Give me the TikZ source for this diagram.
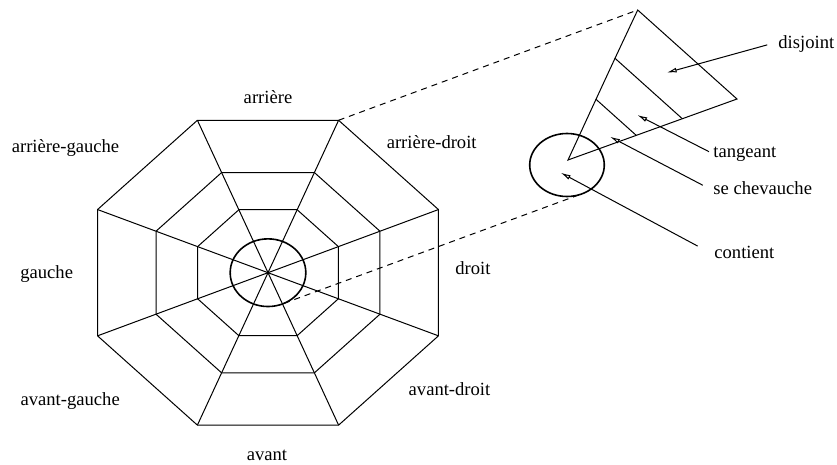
\documentclass[tikz,border=0pt]{standalone}
\usepackage{fontspec}
\setmainfont{Liberation Serif}
\usetikzlibrary{arrows.meta,positioning}

\begin{document}
\begin{tikzpicture}[
      x=0.5pt, y=-0.5pt,
      font=\fontsize{9.3}{11}\selectfont,
      lbl/.style={inner sep=2pt, text height=1.5ex, text depth=.25ex},
      edge/.style={line width=0.5pt},
      ring/.style={line width=0.8pt},
      zoomline/.style={dash pattern=on 3pt off 2.5pt, line width=0.5pt},
      ptr/.style={-{Latex[open, length=5pt, width=2.4pt]}, line width=0.5pt},
    ]
    \useasboundingbox (0,0) rectangle (837,465);

    % Octagon web (left), regular in a stretched frame
    \begin{scope}[shift={(268,272.7)}, x=92.25pt, y=-82.5pt]
      \foreach \r in {1,0.657,0.413}
        \draw [edge] (22.5:\r) \foreach \a in {67.5,112.5,...,337.5} { -- (\a:\r) } -- cycle;
      \foreach \a in {22.5,67.5,...,337.5}
        \draw [edge] (0,0) -- (\a:1);
      \draw [ring] (0,0) circle (0.205);
      \coordinate (top) at (-67.5:1);
      \coordinate (near) at (65:0.205);
    \end{scope}

    % Direction labels
    \node (arr) [lbl] at (268,98) {arrière};
    \node (arrg) [lbl] at (65.5,146.7) {arrière-gauche};
    \node (arrd) [lbl] at (431.7,142.7) {arrière-droit};
    \node (gau) [lbl] at (46.7,273) {gauche};
    \node (dro) [lbl] at (473,268.3) {droit};
    \node (avg) [lbl] at (70.2,400) {avant-gauche};
    \node (avd) [lbl] at (449.5,390) {avant-droit};
    \node (ava) [lbl] at (267,455) {avant};

    % Zoomed sector (right)
    \coordinate (apex) at (637.7,10);
    \coordinate (corner) at (737,99);
    \coordinate (origin) at (568,160);
    \coordinate (l1) at (596,99.3);
    \coordinate (l2) at (615,58.3);
    \draw [edge] (origin) -- (l1) -- (l2) -- (apex) -- (corner) -- cycle;
    \draw [edge] (l1) -- (636.3,135.4);
    \draw [edge] (l2) -- (682.4,118.8);
    \draw [ring] (567,165) ellipse [x radius=37.3, y radius=31.5];
    \coordinate (far) at (580,194.5);

    \draw [zoomline] (top) -- (apex);
    \draw [zoomline] (near) -- (far);

    % Relation labels and pointers
    \coordinate (dj) at (666.7,72.7);
    \coordinate (tg) at (637.3,115);
    \coordinate (sc) at (610,136.7);
    \coordinate (ct) at (560.7,172.7);
    \node (disj) [lbl, anchor=west] at (774,43) {disjoint};
    \node (tang) [lbl, anchor=west] at (709,151.7) {tangeant};
    \node (chev) [lbl, anchor=west] at (709,188.5) {se chevauche};
    \node (cont) [lbl, anchor=west] at (710,252.7) {contient};
    \draw [ptr, shorten <=3.5pt] (disj.west) -- (dj);
    \draw [ptr] (tang.west) -- (tg);
    \draw [ptr, shorten <=3.5pt] (chev.west) -- (sc);
    \draw [ptr, shorten <=7pt] (cont.west) -- (ct);
  \end{tikzpicture}
\end{document}
